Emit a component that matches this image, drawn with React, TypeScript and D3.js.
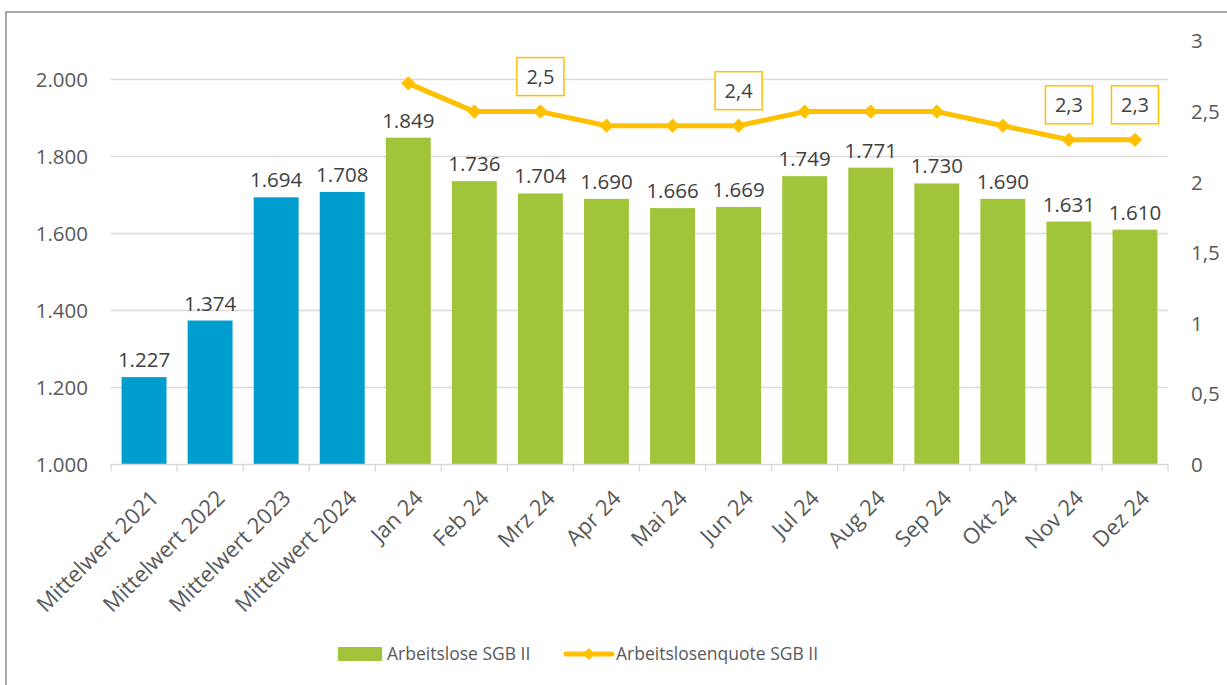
import { useEffect, useRef } from "react"
import * as d3 from 'd3'

const categories = ["Mittelwert 2021", "Mittelwert 2022", "Mittelwert 2023", "Mittelwert 2024", "Jan 24", "Feb 24", "Mrz 24", "Apr 24", "Mai 24", "Jun 24", "Jul 24", "Aug 24", "Sep 24", "Okt 24", "Nov 24", "Dez 24"]
const arbeitslose = [1227, 1374, 1694, 1708, 1849, 1736, 1704, 1690, 1666, 1669, 1749, 1771, 1730, 1690, 1631, 1610]
const quote: (number | null)[] = [null, null, null, null, 2.7, 2.5, 2.5, 2.4, 2.4, 2.4, 2.5, 2.5, 2.5, 2.4, 2.3, 2.3]
const quoteLabelled = ["Mrz 24", "Jun 24", "Nov 24", "Dez 24"]
const leftTicks = [1000, 1200, 1400, 1600, 1800, 2000]
const rightTicks = [0, 0.5, 1, 1.5, 2, 2.5, 3]

const BLUE = "#009ECE"
const GREEN = "#A2C43B"
const GOLD = "#FFC000"
const FONT = "'Open Sans', 'Noto Sans', sans-serif"

const fmtDe = (v: number) => v.toLocaleString("de-DE")

export default function App() {
  const svgRef = useRef<SVGSVGElement>(null)

  useEffect(() => {
    d3.select(svgRef.current).selectAll('*').remove()
    if (!svgRef.current) return
    const svg = d3.select(svgRef.current)
    const plot = { left: 111, right: 1168, top: 41, bottom: 464.5 }

    // outer frame
    svg.append("rect")
      .attr("x", 6).attr("y", 12)
      .attr("width", 1240).attr("height", 700)
      .attr("fill", "white")
      .attr("stroke", "#8c8c8c")
      .attr("stroke-width", 1.5)

    const x = d3.scaleBand<string>()
      .domain(categories)
      .range([plot.left, plot.right])
      .paddingInner(0.32)
      .paddingOuter(0.16)

    const yLeft = d3.scaleLinear().domain([1000, 2100]).range([plot.bottom, plot.top])
    const yRight = d3.scaleLinear().domain([0, 3]).range([plot.bottom, plot.top])

    // gridlines
    svg.append("g").selectAll("line")
      .data(leftTicks.slice(1))
      .join("line")
      .attr("x1", plot.left).attr("x2", plot.right)
      .attr("y1", d => yLeft(d)).attr("y2", d => yLeft(d))
      .attr("stroke", "#d9d9d9").attr("stroke-width", 1.3)

    // left tick labels
    svg.append("g").selectAll("text")
      .data(leftTicks)
      .join("text")
      .attr("x", 88).attr("y", d => yLeft(d))
      .attr("dy", "0.36em")
      .attr("text-anchor", "end")
      .attr("font-family", FONT).attr("font-size", 20.5)
      .attr("fill", "#595959")
      .text(d => fmtDe(d))

    // right tick labels
    svg.append("g").selectAll("text")
      .data(rightTicks)
      .join("text")
      .attr("x", 1191).attr("y", d => yRight(d))
      .attr("dy", "0.36em")
      .attr("text-anchor", "start")
      .attr("font-family", FONT).attr("font-size", 20.5)
      .attr("fill", "#595959")
      .text(d => String(d).replace(".", ","))

    // bars
    svg.append("g").selectAll("rect")
      .data(arbeitslose)
      .join("rect")
      .attr("x", (d, i) => x(categories[i]) as number)
      .attr("width", x.bandwidth())
      .attr("y", d => yLeft(d))
      .attr("height", d => plot.bottom - yLeft(d))
      .attr("fill", (d, i) => categories[i].startsWith("Mittelwert") ? BLUE : GREEN)

    // bar labels
    svg.append("g").selectAll("text")
      .data(arbeitslose)
      .join("text")
      .attr("x", (d, i) => (x(categories[i]) as number) + x.bandwidth() / 2)
      .attr("y", d => yLeft(d) - 10)
      .attr("text-anchor", "middle")
      .attr("font-family", FONT).attr("font-size", 20.5)
      .attr("fill", "#404040")
      .text(d => fmtDe(d))

    // x axis
    svg.append("line")
      .attr("x1", plot.left).attr("x2", plot.right)
      .attr("y1", plot.bottom).attr("y2", plot.bottom)
      .attr("stroke", "#d9d9d9").attr("stroke-width", 1.3)
    svg.append("g").selectAll("line")
      .data(d3.range(categories.length + 1))
      .join("line")
      .attr("x1", i => plot.left + i * x.step()).attr("x2", i => plot.left + i * x.step())
      .attr("y1", plot.bottom).attr("y2", plot.bottom + 7)
      .attr("stroke", "#d9d9d9").attr("stroke-width", 1.3)

    svg.append("g").selectAll("text")
      .data(categories)
      .join("text")
      .attr("transform", d => `translate(${(x(d) as number) + x.bandwidth() / 2 + 5},${plot.bottom + 24}) rotate(-45)`)
      .attr("dy", "0.71em")
      .attr("text-anchor", "end")
      .attr("font-family", FONT).attr("font-size", 22)
      .attr("fill", "#595959")
      .text(d => d)

    // line
    const pts = categories.map((c, i) => ({ c, v: quote[i] })).filter(p => p.v !== null) as { c: string, v: number }[]
    const cx = (c: string) => (x(c) as number) + x.bandwidth() / 2
    const line = d3.line<{ c: string, v: number }>()
      .x(d => cx(d.c))
      .y(d => yRight(d.v))
    svg.append("path")
      .datum(pts)
      .attr("fill", "none")
      .attr("stroke", GOLD)
      .attr("stroke-width", 5)
      .attr("stroke-linejoin", "round")
      .attr("d", line)

    const diamond = d3.symbol().type(d3.symbolDiamond2).size(130)
    svg.append("g").selectAll("path")
      .data(pts)
      .join("path")
      .attr("d", diamond)
      .attr("transform", d => `translate(${cx(d.c)},${yRight(d.v)})`)
      .attr("fill", GOLD)

    // boxed labels
    const lbl = svg.append("g").selectAll("g")
      .data(pts.filter(p => quoteLabelled.includes(p.c)))
      .join("g")
      .attr("transform", d => `translate(${cx(d.c)},${yRight(d.v) - 35})`)
    lbl.append("rect")
      .attr("x", -23.5).attr("y", -19)
      .attr("width", 47).attr("height", 38)
      .attr("fill", "white")
      .attr("stroke", GOLD).attr("stroke-width", 1.5)
    lbl.append("text")
      .attr("dy", "0.36em")
      .attr("text-anchor", "middle")
      .attr("font-family", FONT).attr("font-size", 20)
      .attr("fill", "#404040")
      .text(d => String(d.v).replace(".", ","))

    // legend
    const lg = svg.append("g")
    lg.append("rect")
      .attr("x", 338).attr("y", 647)
      .attr("width", 44).attr("height", 14)
      .attr("fill", GREEN)
    lg.append("text")
      .attr("x", 387).attr("y", 654).attr("dy", "0.36em")
      .attr("font-family", FONT).attr("font-size", 17.5)
      .attr("fill", "#595959")
      .text("Arbeitslose SGB II")
    lg.append("line")
      .attr("x1", 566).attr("x2", 612)
      .attr("y1", 654).attr("y2", 654)
      .attr("stroke", GOLD).attr("stroke-width", 5)
      .attr("stroke-linecap", "round")
    lg.append("path")
      .attr("d", d3.symbol().type(d3.symbolDiamond2).size(90))
      .attr("transform", "translate(589,654)")
      .attr("fill", GOLD)
    lg.append("text")
      .attr("x", 616).attr("y", 654).attr("dy", "0.36em")
      .attr("font-family", FONT).attr("font-size", 17.5)
      .attr("fill", "#595959")
      .text("Arbeitslosenquote SGB II")
  }, [])

  return (
    <svg ref={svgRef} width="1227" height="685" style={{ position: "absolute", left: 0, top: 0, display: "block" }}></svg>
  )
}
